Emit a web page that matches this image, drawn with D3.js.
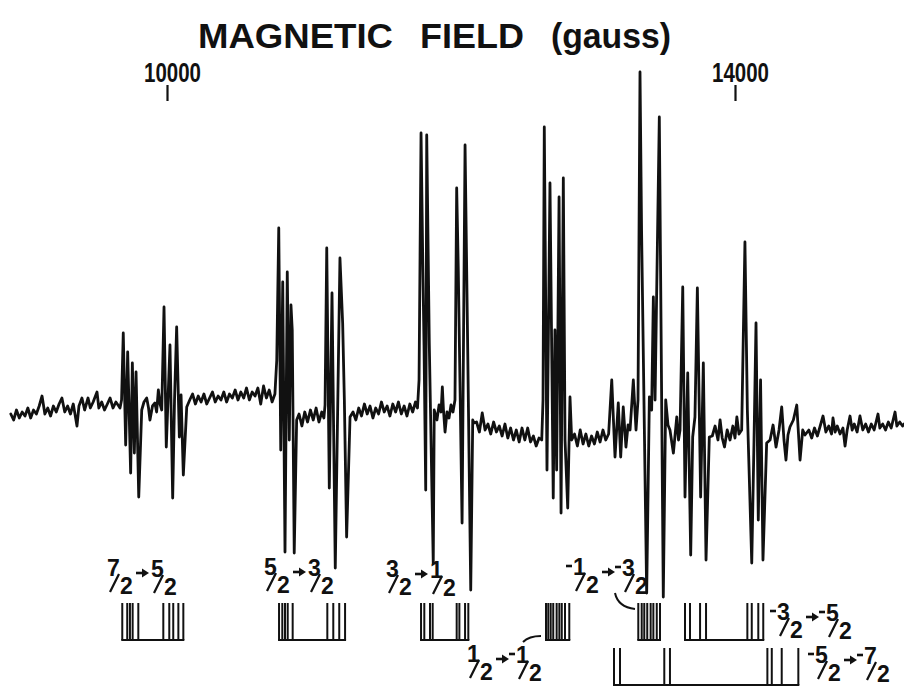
<!DOCTYPE html>
<html>
<head>
<meta charset="utf-8">
<script src="https://cdn.jsdelivr.net/npm/d3@7"></script>
<style>
  html, body { margin: 0; padding: 0; background: #fff; }
  svg { display: block; }
  text { font-family: "Liberation Sans", Arial, Helvetica, sans-serif; font-weight: bold; fill: #111; }
</style>
</head>
<body>
<svg id="chart" width="904" height="687"></svg>
<script>
// ---- EPR derivative trace: [field (gauss), signal (arb. units)] ----
const baselineLow = [[8900,8],[8920,5],[8940,10],[8960,6],[8980,9],[9000,7],[9020,11],[9040,6],[9060,10],[9080,8],[9100,12],[9120,17],[9140,8],[9160,11],[9180,7],[9200,12],[9220,9],[9240,13],[9260,16],[9280,9],[9300,12],[9320,8],[9340,13],[9366,2],[9380,12],[9401,16],[9420,10],[9444,16],[9460,11],[9480,14],[9507,19],[9520,11],[9540,14],[9560,10],[9580,13],[9599,16],[9620,11],[9640,14],[9660,12]];
const lines72 = [[9669,11],[9680,15],[9692,48.5],[9709,-7.5],[9723,39],[9744,-21.5],[9756,33.5],[9770,-11.5],[9782,29],[9801,-33.5],[9822,10],[9838,14],[9857,16],[9870,11],[9880,5],[9898,12],[9915,13.5],[9927,9],[9939,20],[9951,13],[9963,10],[9979,61.5],[9995,-8.5],[10021,42.5],[10040,-34],[10053,15],[10068,51.5],[10087,-3.5],[10099,17.5],[10115,-22.5],[10139,11.5]];
const baselineB = [[10160,15],[10180,18],[10200,13],[10220,17],[10240,14],[10260,18],[10280,13],[10300,16],[10320,19],[10340,14],[10360,17],[10380,15],[10400,19],[10420,14],[10440,18],[10460,16],[10480,20],[10500,15],[10520,19],[10540,16],[10560,21],[10580,15],[10600,19],[10620,17],[10640,21],[10660,13],[10680,22],[10700,16],[10720,20],[10740,14],[10760,18]];
const lines52a = [[10773,35],[10787,101],[10801,-10],[10815,74],[10831,-61],[10847,79],[10861,-5],[10873,62.5],[10882,50],[10896,-61.5],[10913,5]];
const baselineC = [[10930,8],[10950,2],[10970,9],[10990,4],[11010,10],[11030,5],[11050,11],[11070,4],[11090,9],[11105,6]];
const lines52b = [[11113,12.5],[11125,91],[11143,-29],[11162,68.5],[11185,-69],[11218,86],[11237,53.5],[11249,15],[11265,-53.5],[11289,6.5]];
const baselineD = [[11310,9],[11330,5],[11350,11],[11370,7],[11390,13],[11410,8],[11430,12],[11450,6],[11470,11],[11490,8],[11510,14],[11530,9],[11550,12],[11570,7],[11590,13],[11610,9],[11630,14],[11650,8],[11670,12],[11690,7],[11710,13],[11730,9],[11750,14],[11764,11]];
const lines32 = [[11775,25],[11789,148.5],[11801,85],[11810,42.5],[11822,-30],[11829,147.5],[11847,43.5],[11875,-66.5],[11882,10],[11901,5],[11916,12.5],[11930,9],[11939,21.5],[11947,10],[11958,-1],[11972,9],[11986,6],[12000,12.5],[12014,9],[12028,15],[12040,121],[12051,81.5],[12078,-46.5],[12099,142.5],[12118,38.5],[12139,-80],[12153,5],[12162,3.5]];
const baselineE = [[12180,4],[12200,-1],[12220,8.5],[12240,0],[12260,3],[12280,-2],[12300,4],[12320,-1],[12340,2],[12360,-3],[12380,3],[12400,-4],[12420,1],[12440,-5],[12460,0],[12480,-6],[12500,1],[12520,-5],[12540,1],[12560,-6],[12580,-3],[12600,-8],[12620,-4],[12639,-5]];
const lines12 = [[12648,15],[12657,151.5],[12676,-20],[12697,123.5],[12720,-34],[12732,50],[12744,-20],[12761,116.5],[12775,-41.5],[12791,126],[12803,-5],[12822,-39],[12838,16.5],[12850,-5]];
const baselineF = [[12870,-2],[12890,-8],[12910,0],[12930,-7],[12950,-2],[12970,-8],[12990,-3],[13010,-7],[13030,-1],[13050,-6],[13070,0],[13090,-5],[13110,-2]];
const linesM12 = [[13132,25],[13155,-13.5],[13178,13.5],[13195,-13.5],[13213,11.5],[13232,-8.5],[13247,2.5],[13261,0],[13284,25],[13303,0],[13317,15],[13331,179],[13342,100],[13378,-81.5],[13397,16.5],[13413,10],[13425,66.5],[13437,15],[13467,156.5],[13495,-83.5],[13512,15],[13528,2.5],[13542,0],[13566,-11.5],[13590,6.5],[13602,-5],[13613,0]];
const linesM32a = [[13632,71.5],[13648,-33.5],[13667,28.5],[13688,-62.5],[13702,-3.5],[13718,6.5],[13735,71],[13758,-33.5],[13777,33.5],[13796,-65],[13819,-3.5]];
const baselineG = [[13840,-3],[13860,2],[13880,-5],[13895,5],[13910,-4],[13926,-8.5],[13945,0],[13965,-5],[13985,2],[14000,-4],[14013,6.5],[14028,-2],[14047,0]];
const linesM32b = [[14070,94],[14087,10],[14118,-66.5],[14134,-5],[14148,53.5],[14164,-45],[14180,25],[14197,-65],[14223,-6.5]];
const baselineH = [[14247,-5],[14268,2.5],[14289,-8.5],[14310,0],[14329,11.5],[14345,-5],[14359,-15],[14373,-2.5],[14387,1.5],[14411,5],[14435,12.5],[14458,-15],[14477,0],[14493,-2.5]];
const baselineHigh = [[14520,0],[14540,-4],[14560,1],[14580,-3],[14600,2],[14620,7],[14640,-1],[14660,2],[14680,-2],[14690,6],[14705,-1],[14720,2],[14740,-2],[14760,1],[14775,-8],[14790,0],[14810,7],[14825,0],[14840,3],[14860,-1],[14880,7],[14900,0],[14920,3],[14940,-1],[14960,3],[14980,0],[15007,8],[15020,1],[15040,3],[15060,0],[15080,4],[15100,1],[15127,9],[15140,2],[15160,4],[15180,2],[15190,3]];

// ---- field axis ----
const tickValues = [10000, 14000];
const titleWords = ["MAGNETIC", "FIELD", "(gauss)"];

// ---- stick diagrams: predicted line positions (gauss) for each fine-structure transition ----
const sticks72 = [9685, 9720, 9739, 9758, 9798, 9974, 10016, 10044, 10080, 10115];
const sticks52 = [10789, 10812, 10831, 10850, 10885, 11129, 11171, 11213, 11254];
const sticks32 = [11789, 11812, 11852, 11871, 12040, 12059, 12099, 12122];
const sticks12 = [12669, 12685, 12702, 12720, 12744, 12763, 12780, 12803, 12833];
const sticksM12 = [13319, 13343, 13361, 13382, 13406, 13425, 13449, 13472];
const sticksM32 = [13648, 13683, 13754, 13796, 14087, 14118, 14164, 14199];
const sticksM52 = [13148, 13190, 13502, 13542, 14228, 14259, 14329, 14446];
const transitionNames = [["7/2","5/2"],["5/2","3/2"],["3/2","1/2"],["1/2","-1/2"],["-1/2","-3/2"],["-3/2","-5/2"],["-5/2","-7/2"]];

const trace = [].concat(baselineLow, lines72, baselineB, lines52a, baselineC, lines52b, baselineD,
  lines32, baselineE, lines12, baselineF, linesM12, linesM32a, baselineG, linesM32b, baselineH, baselineHigh);
const stickSets = [sticks72, sticks52, sticks32, sticks12, sticksM12, sticksM32, sticksM52];

// layout
const svg = d3.select("#chart");
const x = d3.scaleLinear().domain([10000, 14000]).range([167, 735]);
const y = d3.scaleLinear().domain([-100, 185]).range([630, 60]);
const ink = "#111";

// title
const titleX = [198, 420, 551];
const titleLen = [195, 104, 120];
titleWords.forEach((w, i) => {
  svg.append("text").attr("x", titleX[i]).attr("y", 48)
    .attr("font-size", 35).attr("textLength", titleLen[i]).attr("lengthAdjust", "spacingAndGlyphs")
    .text(w);
});

// top field axis
const axis = d3.axisTop(x).tickValues(tickValues).tickSize(16).tickPadding(3).tickFormat(d3.format("d"));
const axG = svg.append("g").attr("transform", "translate(0,101)").call(axis);
axG.select(".domain").remove();
axG.selectAll(".tick line").attr("stroke", ink).attr("stroke-width", 2.2);
axG.selectAll(".tick text")
  .attr("fill", ink).attr("font-size", 27).attr("font-weight", "bold")
  .attr("font-family", "Liberation Sans, Arial, sans-serif")
  .attr("dx", 5).attr("textLength", 57).attr("lengthAdjust", "spacingAndGlyphs");

// spectrum
const line = d3.line().x(d => x(d[0])).y(d => y(d[1]));
svg.append("path").datum(trace).attr("d", line)
  .attr("fill", "none").attr("stroke", ink).attr("stroke-width", 2.8)
  .attr("stroke-linejoin", "round").attr("stroke-linecap", "round");

// stick diagrams
const rowTop = [603, 648], rowBottom = [640, 685];
const stickRow = [0, 0, 0, 0, 0, 0, 1];
stickSets.forEach((set, i) => {
  const r = stickRow[i];
  const g = svg.append("g").attr("stroke", ink).attr("stroke-width", 2);
  g.selectAll("line.s").data(set).join("line").attr("class", "s")
    .attr("x1", d => x(d)).attr("x2", d => x(d)).attr("y1", rowTop[r]).attr("y2", rowBottom[r]);
  g.append("line").attr("x1", x(d3.min(set)) - 1).attr("x2", x(d3.max(set)) + 1)
    .attr("y1", rowBottom[r]).attr("y2", rowBottom[r]);
});

// transition labels, written as stacked fractions with an arrow
const labelPos = [[107,559],[264,558],[386,560],[467,645],[573,558],[777,603],[815,646]];
function fraction(g, x0, y0, s) {
  const neg = s[0] === "-";
  const [n, d] = s.replace("-", "").split("/");
  if (neg) g.append("line").attr("x1", x0 - 7).attr("x2", x0 - 1).attr("y1", y0 + 8).attr("y2", y0 + 8)
    .attr("stroke", ink).attr("stroke-width", 2.6);
  g.append("text").attr("x", x0).attr("y", y0 + 17).attr("font-size", 23).text(n);
  g.append("line").attr("x1", x0 + 3).attr("y1", y0 + 33).attr("x2", x0 + 12).attr("y2", y0 + 15)
    .attr("stroke", ink).attr("stroke-width", 2.2);
  g.append("text").attr("x", x0 + 13).attr("y", y0 + 35).attr("font-size", 23).text(d);
}
transitionNames.forEach((t, i) => {
  const [x0, y0] = labelPos[i];
  const g = svg.append("g");
  fraction(g, x0, y0, t[0]);
  g.append("line").attr("x1", x0 + 29).attr("x2", x0 + 36).attr("y1", y0 + 14).attr("y2", y0 + 14)
    .attr("stroke", ink).attr("stroke-width", 2.6);
  g.append("path").attr("d", `M${x0 + 35},${y0 + 9.5}L${x0 + 42},${y0 + 14}L${x0 + 35},${y0 + 18.5}Z`).attr("fill", ink);
  const neg2 = t[1][0] === "-";
  fraction(g, x0 + (neg2 ? 49 : 44), y0 + 1, t[1]);
});

// leader curves tying the crowded labels to their stick groups
svg.append("path").attr("d", "M523,642 Q529,636 541,636").attr("fill", "none").attr("stroke", ink).attr("stroke-width", 2);
svg.append("path").attr("d", "M615,593 Q618,607 635,609").attr("fill", "none").attr("stroke", ink).attr("stroke-width", 2);
</script>
</body>
</html>
